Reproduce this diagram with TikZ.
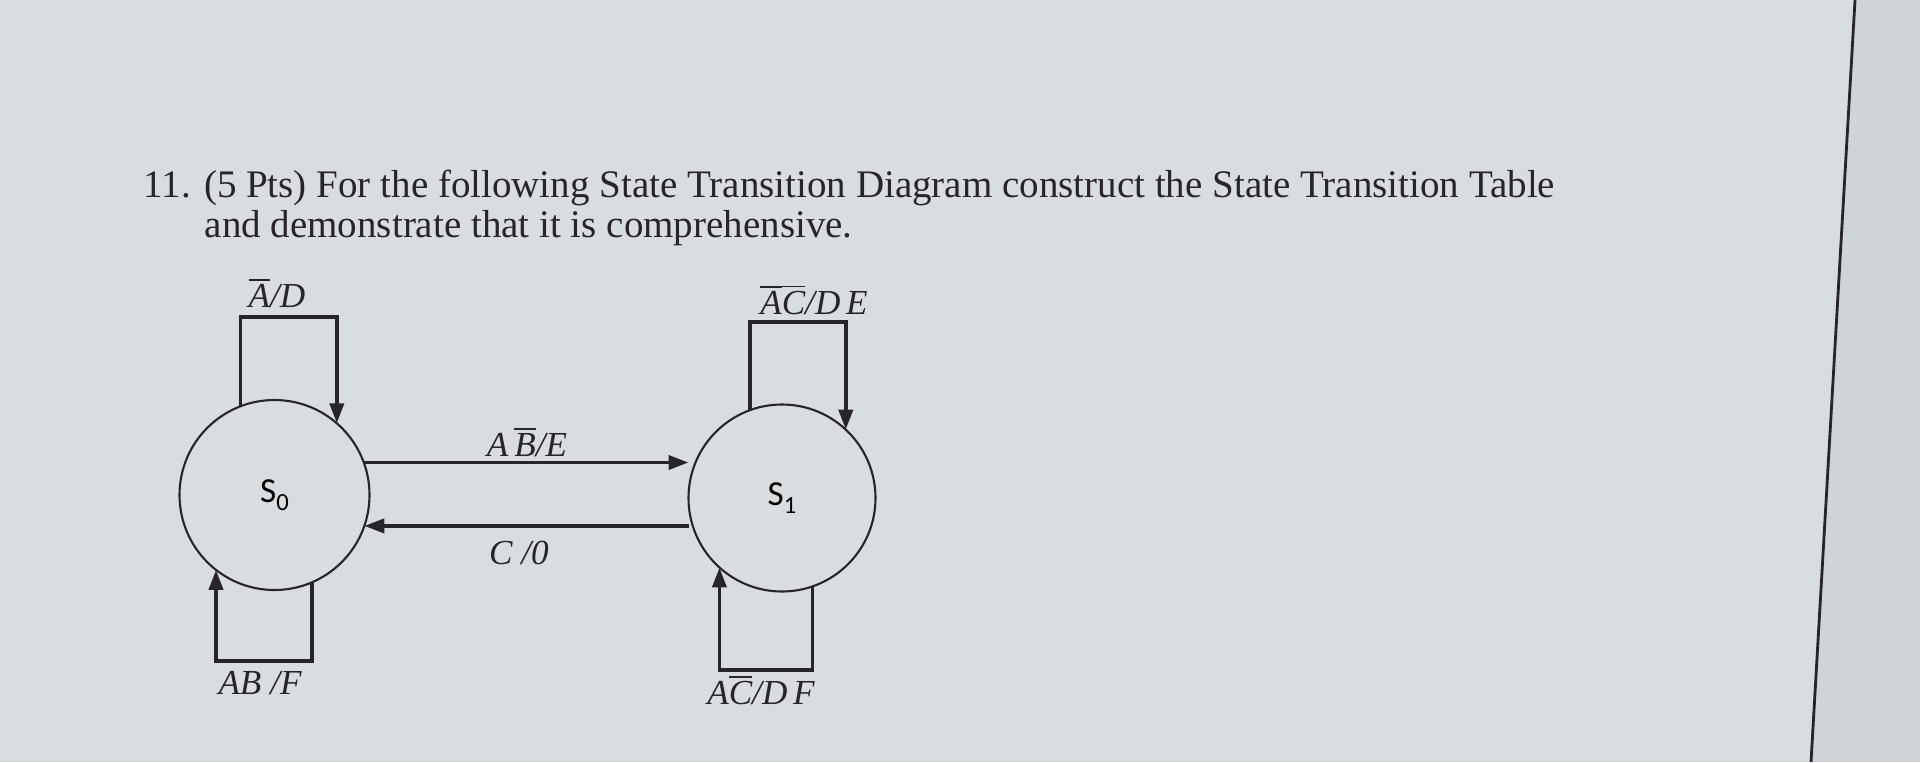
\documentclass[tikz,border=0pt]{standalone}
\usepackage{fontspec}
\setmainfont{Liberation Serif}
\newfontfamily\statefont{Carlito}
\usepackage{tikz}
\usetikzlibrary{positioning, arrows.meta, calc}
\definecolor{scrgray}{RGB}{218,221,224}
\definecolor{scredge}{RGB}{208,212,215}
\definecolor{inkgray}{RGB}{38,38,42}
\newcommand{\negl}[1]{$\overline{\hbox{\itshape #1}}$}

\begin{document}
\begin{tikzpicture}
[state/.style={circle, draw=inkgray, line width=0.6pt, inner sep=0pt, outer sep=0pt,
   minimum size=1.9cm, font=\statefont\fontsize{10}{10}\selectfont},
 arr/.style={draw=inkgray, line width=1.1pt, arrows={-Triangle[length=2mm, width=1.4mm]}},
 lbl/.style={inner sep=1pt, text=inkgray, font=\itshape\fontsize{10}{10}\selectfont},
 ttl/.style={anchor=base west, inner sep=0pt, text=inkgray, font=\fontsize{11.1}{12}\selectfont}]

% screen background and its edge
\useasboundingbox (0,0) rectangle (19.2,-7.62);
\fill[scrgray] (0,0) rectangle (19.2,-7.62);
\fill[scredge] (18.55,0) -- (19.2,0) -- (19.2,-7.62) -- (18.11,-7.62) -- cycle;
\draw[inkgray, line width=0.8pt] (18.55,0) -- (18.11,-7.62);

% question text
\node[ttl] (q1) at (1.43,-1.97) {11. (5 Pts) For the following State Transition Diagram construct the State Transition Table};
\node[ttl] (q2) at (2.04,-2.37) {and demonstrate that it is comprehensive.};

% the two states
\node[state] (s0) at (2.745,-4.95) {S\raisebox{-0.45ex}{\scriptsize 0}};
\node[state, minimum size=1.87cm] (s1) at (7.82,-4.98) {S\raisebox{-0.45ex}{\scriptsize 1}};

% corners of the self loops
\coordinate (t0) at (2.9,-3.17);
\coordinate (b0) at (2.6,-6.61);
\coordinate (t1) at (8.0,-3.22);
\coordinate (b1) at (7.7,-6.70);

\draw[arr] (s0.111) |- (t0) -| (s0.49);
\draw[arr] (s0.-67) |- (b0) -| (s0.-128);
\draw[arr] (s1.110) |- (t1) -| (s1.47);
\draw[arr] (s1.-71) |- (b1) -| (s1.-132);

% transitions between the states
\draw[arr] (s0.20) -- (s0.20 -| s1.west);
\draw[arr] (s0.-19 -| s1.west) -- (s0.-19);

% labels
\node[lbl] (l0) at (2.77,-2.93) {\negl{A}/D};
\node[lbl] (l1) at (2.60,-6.83) {AB /F};
\node[lbl] (l2) at (8.14,-3.00) {\negl{A}\negl{C}/D\,E};
\node[lbl] (l3) at (7.61,-6.90) {A\negl{C}/D\,F};
\node[lbl] (l4) at (5.27,-4.42) {A\,\negl{B}/E};
\node[lbl] (l5) at (5.19,-5.53) {C /0};

\end{tikzpicture}
\end{document}
